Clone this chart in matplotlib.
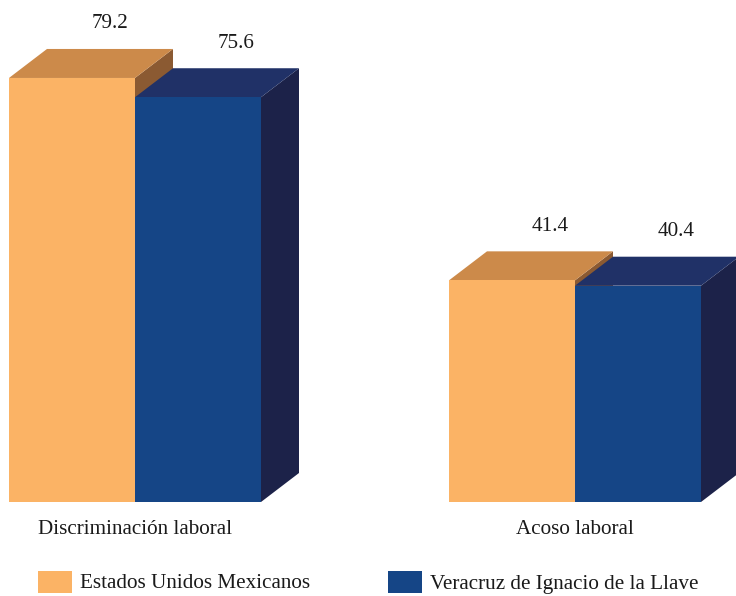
import matplotlib.pyplot as plt
from matplotlib.patches import Polygon

categories = ['Discriminación laboral', 'Acoso laboral']
series_names = ['Estados Unidos Mexicanos', 'Veracruz de Ignacio de la Llave']
values = [
    [79.2, 41.4],  # Estados Unidos Mexicanos
    [75.6, 40.4],  # Veracruz de Ignacio de la Llave
]

front_colors = ['#FBB365', '#154586']
top_colors = ['#CC8A4A', '#203167']
side_colors = ['#8B5A32', '#1C2249']

plt.rcParams['font.family'] = ['Liberation Serif', 'DejaVu Serif']

W, H = 736, 596
fig = plt.figure(figsize=(W / 100, H / 100), dpi=100)
ax = fig.add_axes([0, 0, 1, 1])

k = 5.354          # pixels per unit of value
base_px = 94       # baseline distance from bottom, px
ax.set_xlim(0, W)
ax.set_ylim(-base_px / k, (H - base_px) / k)
ax.axis('off')

bar_w = 126
first_left = 9
group_gap = 440
dx = 38
dy = 29 / k
fs = 15.2

for i, cat in enumerate(categories):
    left0 = first_left + i * group_gap
    for s in range(len(series_names)):
        v = values[s][i]
        x0 = left0 + s * bar_w
        x1 = x0 + bar_w
        side = Polygon([(x1, 0), (x1 + dx, dy), (x1 + dx, v + dy), (x1, v)],
                       closed=True, facecolor=side_colors[s], edgecolor='none')
        top = Polygon([(x0, v), (x0 + dx, v + dy), (x1 + dx, v + dy), (x1, v)],
                      closed=True, facecolor=top_colors[s], edgecolor='none')
        front = Polygon([(x0, 0), (x1, 0), (x1, v), (x0, v)],
                        closed=True, facecolor=front_colors[s], edgecolor='none')
        for p in (side, top, front):
            ax.add_patch(p)
        ax.text((x0 + x1) / 2 + dx, v + dy + 25 / k, f'{v:.1f}',
                ha='center', va='center', fontsize=fs, color='#1a1a1a')
    ax.text(left0 + bar_w, -27 / k, cat, ha='center', va='center',
            fontsize=fs, color='#1a1a1a')

# legend
leg_x = [38, 388]
leg_y = -(582 - 502) / k
for s, name in enumerate(series_names):
    ax.add_patch(Polygon([(leg_x[s], leg_y - 11 / k), (leg_x[s] + 34, leg_y - 11 / k),
                          (leg_x[s] + 34, leg_y + 11 / k), (leg_x[s], leg_y + 11 / k)],
                         closed=True, facecolor=front_colors[s], edgecolor='none'))
    ax.text(leg_x[s] + 42, leg_y - 2 / k, name, ha='left', va='center',
            fontsize=fs, color='#1a1a1a')

fig.savefig('out.png', dpi=100)
